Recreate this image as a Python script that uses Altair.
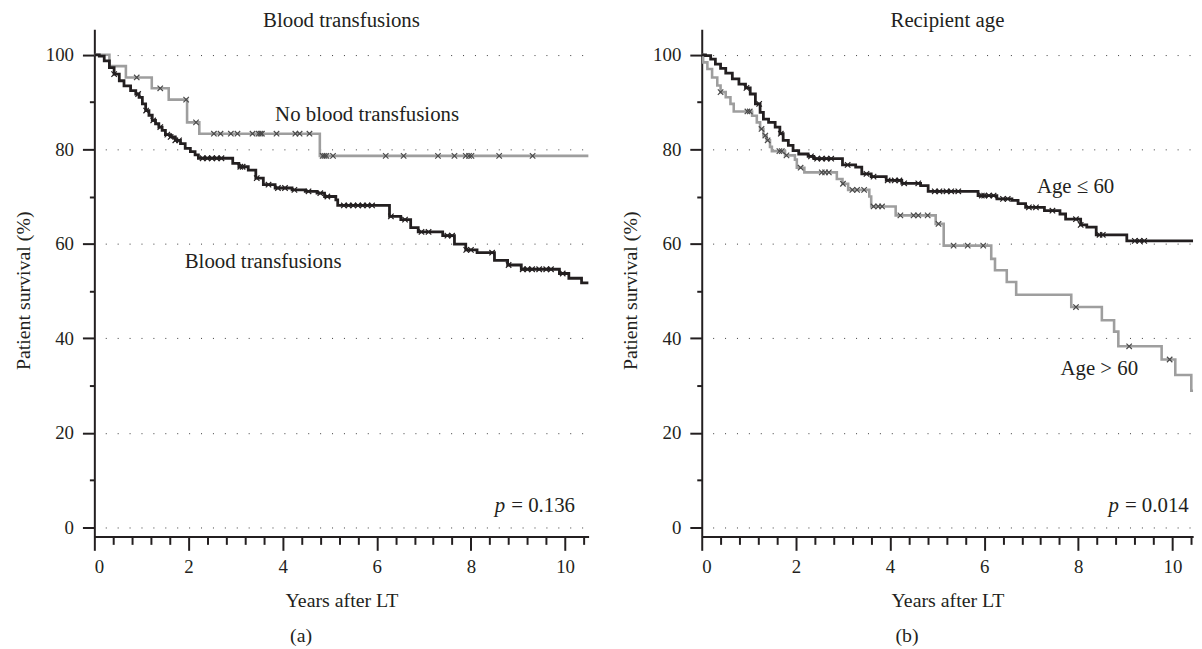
import altair as alt
import pandas as pd

FONT = "Liberation Serif"
INK = "#231f20"
GREY = "#9e9e9e"
GREY_MARK = "#4a4a4a"

# ---------------- Panel (a): blood transfusions ----------------
a_bt_t = [0, 0.105, 0.21, 0.32, 0.42, 0.53, 0.63, 0.77, 0.88, 0.95, 1.02, 1.09, 1.16, 1.23,
          1.30, 1.37, 1.44, 1.51, 1.62, 1.72, 1.83, 1.93, 2.04, 2.14, 2.21, 2.94, 3.07, 3.27,
          3.43, 3.59, 3.84, 4.20, 4.48, 4.73, 4.89, 5.13, 5.17, 6.27, 6.51, 6.72, 6.88, 7.40,
          7.65, 7.89, 8.13, 8.50, 8.78, 9.07, 9.88, 10.08, 10.35, 10.5]
a_bt_s = [100, 99.7, 98.7, 97.3, 95.9, 94.5, 93.4, 92.4, 91.7, 91.0, 89.6, 88.2, 87.2, 86.1,
          85.4, 84.7, 84.0, 83.1, 82.6, 81.9, 81.2, 80.2, 79.5, 78.8, 78.1, 77.0, 76.3, 75.6,
          73.9, 72.5, 71.8, 71.4, 71.1, 70.7, 70.0, 69.3, 68.1, 65.8, 65.1, 63.4, 62.5, 61.7,
          59.9, 58.7, 58.1, 56.5, 55.5, 54.6, 53.7, 52.7, 51.7, 51.7]
a_bt_cens = [0.42, 0.93, 1.10, 1.25, 1.40, 1.55, 1.62, 1.72, 1.80, 2.30, 2.40, 2.50, 2.60,
             2.70, 3.10, 3.15, 3.45, 3.70, 3.90, 4.05, 4.25, 4.55, 4.80, 4.95, 5.30, 5.40,
             5.50, 5.60, 5.70, 5.80, 5.90, 6.30, 6.60, 6.95, 7.10, 7.50, 7.60, 7.90, 8.00,
             8.45, 8.80, 9.10, 9.20, 9.30, 9.45, 9.60, 9.70, 9.95]

a_no_t = [0, 0.32, 0.67, 1.22, 1.58, 1.97, 2.23, 4.79, 10.5]
a_no_s = [100, 97.6, 95.2, 92.9, 90.5, 85.7, 83.3, 78.6, 78.6]
a_no_cens = [0.90, 1.40, 1.95, 2.16, 2.54, 2.68, 2.90, 3.04, 3.36, 3.49, 3.53, 3.56, 3.87,
             4.27, 4.36, 4.57, 4.85, 4.89, 4.93, 5.07, 6.19, 6.57, 7.30, 7.65, 7.89, 7.96,
             8.01, 8.60, 9.31]

# ---------------- Panel (b): recipient age ----------------
b_le_t = [0, 0.08, 0.19, 0.29, 0.40, 0.51, 0.65, 0.79, 0.93, 1.03, 1.14, 1.24, 1.31, 1.42,
          1.56, 1.66, 1.73, 1.84, 1.94, 2.06, 2.26, 2.38, 2.99, 3.27, 3.40, 3.60, 3.92, 4.25,
          4.65, 4.81, 5.87, 6.27, 6.59, 6.72, 6.88, 7.28, 7.61, 7.73, 8.05, 8.18, 8.38, 9.03,
          10.44]
b_le_s = [100, 99.8, 99.1, 98.0, 97.1, 96.1, 94.9, 93.8, 93.0, 91.7, 89.6, 87.8, 86.4, 85.7,
          84.7, 83.3, 81.9, 80.8, 79.7, 79.0, 78.5, 78.0, 76.7, 76.2, 74.8, 74.2, 73.4, 72.8,
          72.3, 71.1, 70.2, 69.5, 69.2, 68.5, 67.7, 67.0, 66.3, 65.2, 64.0, 63.5, 61.9, 60.6,
          60.6]
b_le_cens = [0.95, 1.22, 1.68, 2.32, 2.45, 2.55, 2.65, 2.75, 3.10, 3.50, 3.65, 3.95, 4.10,
             4.20, 4.30, 4.60, 4.95, 5.05, 5.20, 5.30, 5.45, 5.95, 6.00, 6.10, 6.20, 6.40,
             6.50, 6.95, 7.10, 7.45, 7.95, 8.05, 8.45, 8.52, 9.20, 9.30, 9.40]

b_gt_t = [0, 0.03, 0.12, 0.22, 0.33, 0.40, 0.51, 0.61, 0.68, 1.07, 1.17, 1.24, 1.31, 1.38,
          1.45, 1.49, 1.77, 1.98, 2.02, 2.18, 2.87, 2.99, 3.11, 3.56, 3.60, 4.12, 4.97, 5.14,
          6.15, 6.23, 6.48, 6.68, 7.85, 8.50, 8.76, 8.85, 9.77, 10.06, 10.40, 10.44]
b_gt_s = [100, 98.4, 97.0, 95.2, 93.5, 92.1, 91.0, 89.6, 88.0, 87.1, 85.7, 84.3, 82.9, 81.9,
          80.5, 79.6, 78.7, 77.8, 76.1, 75.1, 73.7, 72.7, 71.4, 70.0, 67.9, 66.0, 64.2, 59.6,
          56.8, 54.4, 51.9, 49.2, 46.6, 43.8, 41.4, 38.3, 35.5, 32.2, 28.9, 28.9]
b_gt_cens = [0.40, 0.97, 1.02, 1.27, 1.35, 1.40, 1.65, 1.70, 1.80, 2.10, 2.55, 2.62, 2.70,
             3.00, 3.20, 3.30, 3.45, 3.65, 3.75, 3.83, 4.22, 4.50, 4.60, 4.80, 5.03, 5.35,
             5.65, 5.98, 7.95, 9.08, 9.94]

# axis tick values
x_major = [0, 2, 4, 6, 8, 10]
x_minor = [0.4, 0.8, 1.2, 1.6, 2.4, 2.8, 3.2, 3.6, 4.4, 4.8, 5.2, 5.6, 6.4, 6.8, 7.2, 7.6,
           8.4, 8.8, 9.2, 9.6, 10.4]
y_major = [0, 20, 40, 60, 80, 100]
y_minor = [10, 30, 50, 70, 90]

Y_LO, Y_HI = -1.95, 105.4
PX_PER_YEAR = 47.43
PLOT_H = 511


def step_at(ts, ss, t):
    v = ss[0]
    for ti, si in zip(ts, ss):
        if ti <= t:
            v = si
    return v


def curve_df(ts, ss):
    return pd.DataFrame({"t": ts, "s": ss})


def cens_df(ts, ss, cs):
    return pd.DataFrame({"t": cs, "s": [step_at(ts, ss, c) for c in cs]})


XMARK = "M-1,-1L1,1M-1,1L1,-1"


def panel(curves, labels, pval, title, caption, xmax):
    width = xmax * PX_PER_YEAR
    xs = alt.Scale(domain=[0, xmax], nice=False, zero=False)
    ys = alt.Scale(domain=[Y_LO, Y_HI], nice=False, zero=False)
    ax_major = alt.Axis(orient="bottom", values=x_major, tickSize=14, labelPadding=7,
                        title="Years after LT", titlePadding=15, grid=False)
    ax_minor = alt.Axis(orient="bottom", values=x_minor, tickSize=8, labels=False,
                        domain=False, grid=False, title=None)
    ay_major = alt.Axis(orient="left", values=y_major, tickSize=12, labelPadding=9,
                        title="Patient survival (%)", titlePadding=12, titleY=263,
                        grid=True, gridDash=[1, 11], gridDashOffset=1,
                        gridColor="#3a3a3a", gridWidth=1)
    ay_minor = alt.Axis(orient="left", values=y_minor, tickSize=5, labels=False,
                        domain=False, grid=False, title=None)

    layers = []
    for i, (ts, ss, cs, col, mcol, lw) in enumerate(curves):
        xa = ax_major if i == 0 else (ax_minor if i == 1 else None)
        ya = ay_major if i == 0 else (ay_minor if i == 1 else None)
        line = alt.Chart(curve_df(ts, ss)).mark_line(
            interpolate="step-after", strokeWidth=lw, color=col, clip=True
        ).encode(
            x=alt.X("t:Q", scale=xs, axis=xa),
            y=alt.Y("s:Q", scale=ys, axis=ya),
        )
        layers.append(line)
    for ts, ss, cs, col, mcol, lw in curves:
        pts = alt.Chart(cens_df(ts, ss, cs)).mark_point(
            shape=XMARK, size=30, filled=False, strokeWidth=1.2, color=mcol, opacity=1
        ).encode(
            x=alt.X("t:Q", scale=xs, axis=None),
            y=alt.Y("s:Q", scale=ys, axis=None),
        )
        layers.append(pts)

    lab_df = pd.DataFrame(labels, columns=["t", "s", "label"])
    layers.append(
        alt.Chart(lab_df).mark_text(
            align="left", baseline="alphabetic", font=FONT, fontSize=21, color=INK
        ).encode(
            x=alt.X("t:Q", scale=xs, axis=None),
            y=alt.Y("s:Q", scale=ys, axis=None),
            text="label:N",
        )
    )
    pt, ps, ptext = pval
    p_df = pd.DataFrame({"t": [pt], "s": [ps], "label": [ptext]})
    layers.append(
        alt.Chart(p_df).mark_text(
            align="left", baseline="alphabetic", font=FONT, fontSize=21, color=INK
        ).encode(
            x=alt.X("t:Q", scale=xs, axis=None),
            y=alt.Y("s:Q", scale=ys, axis=None),
            text="label:N",
        )
    )
    layers.append(
        alt.Chart(p_df).mark_text(
            align="right", baseline="alphabetic", font=FONT, fontSize=21, color=INK,
            fontStyle="italic", dx=-6, text="p"
        ).encode(
            x=alt.X("t:Q", scale=xs, axis=None),
            y=alt.Y("s:Q", scale=ys, axis=None),
        )
    )

    lay = alt.layer(*layers).resolve_axis(x="independent", y="independent").properties(
        width=width, height=PLOT_H,
        title=alt.TitleParams(title, font=FONT, fontSize=21, fontWeight="normal",
                              color=INK, anchor="middle", frame="group", offset=-2),
    )
    return alt.vconcat(lay).properties(
        title=alt.TitleParams(caption, orient="bottom", anchor="middle", frame="bounds",
                              font=FONT, fontSize=20, fontWeight="normal", color=INK,
                              offset=15)
    )


pa = panel(
    curves=[(a_no_t, a_no_s, a_no_cens, GREY, GREY_MARK, 2.6),
            (a_bt_t, a_bt_s, a_bt_cens, INK, INK, 2.8)],
    labels=[(3.84, 85.9, "No blood transfusions"), (1.92, 54.8, "Blood transfusions")],
    pval=(8.855, 3.3, "= 0.136"),
    title="Blood transfusions", caption="(a)", xmax=10.5,
)
pb = panel(
    curves=[(b_gt_t, b_gt_s, b_gt_cens, GREY, GREY_MARK, 2.6),
            (b_le_t, b_le_s, b_le_cens, INK, INK, 2.8)],
    labels=[(7.12, 70.7, "Age \u2264 60"), (7.62, 32.3, "Age > 60")],
    pval=(8.99, 3.3, "= 0.014"),
    title="Recipient age", caption="(b)", xmax=10.44,
)

chart = alt.hconcat(pa, pb, spacing=31).properties(
    padding={"left": 5, "top": 0, "right": 0, "bottom": 0}
).configure_view(stroke=None).configure_axis(
    labelFont=FONT, labelFontSize=19, labelColor=INK,
    titleFont=FONT, titleFontSize=20, titleFontWeight="normal", titleColor=INK,
    domainColor=INK, domainWidth=2, tickColor=INK, tickWidth=2,
)

chart.save("out.html", embed_options={"renderer": "svg", "actions": False})
